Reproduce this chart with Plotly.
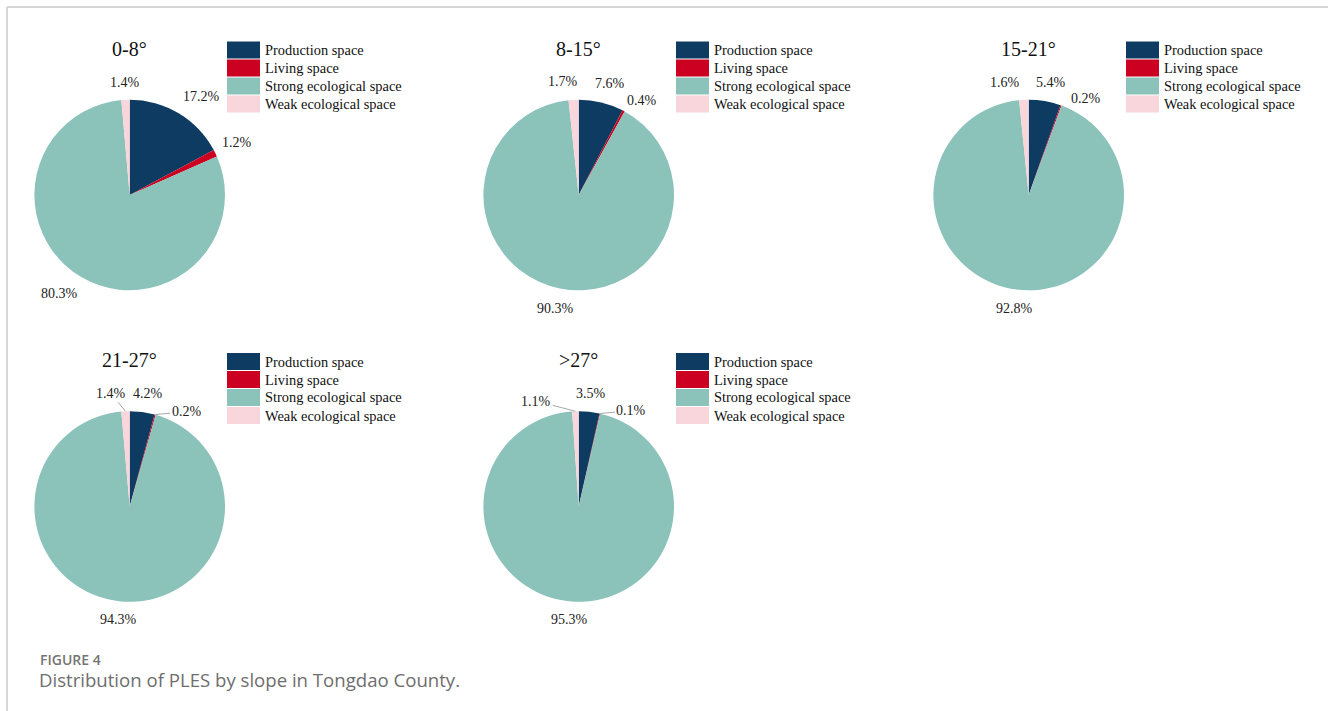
import math
import plotly.graph_objects as go

W, H = 1328, 711

categories = ["Production space", "Living space", "Strong ecological space", "Weak ecological space"]
colors = ["#0e3b62", "#cc0020", "#8bc3ba", "#f8d6dc"]

panel_titles = ["0-8°", "8-15°", "15-21°", "21-27°", ">27°"]
vals_0_8 = [17.2, 1.2, 80.3, 1.4]
vals_8_15 = [7.6, 0.4, 90.3, 1.7]
vals_15_21 = [5.4, 0.2, 92.8, 1.6]
vals_21_27 = [4.2, 0.2, 94.3, 1.4]
vals_gt27 = [3.5, 0.1, 95.3, 1.1]
panel_values = [vals_0_8, vals_8_15, vals_15_21, vals_21_27, vals_gt27]

# ---- layout / styling (pixels) ----
centers = [(129.7, 195), (578.7, 195), (1028.7, 195), (129.7, 506.5), (578.7, 506.5)]
R = 95.3
LABEL_SIZE = 14
# angular nudges (deg) and radial adjustments (px) for crowded outside labels
label_nudge = [[5, 0, 5, 0], [2, 6, 0, -4.6], [1.6, 11, 0, -8.8], [1.6, 15.5, 0, -7], [0, 16, 0, -20]]
label_pull = [[0, -2, 0, 0], [0, -5.5, 0, 0], [0, -7, 0, 0], [0, -8, 0, 0], [0, -9, 0, -3.5]]
leader = [[False] * 4, [False] * 4, [False] * 4,
          [False, True, False, True], [False, True, False, True]]

def px(x):
    return x / W

def py(y):
    return 1 - y / H

serif = "Liberation Serif, Times New Roman, serif"

fig = go.Figure()
shapes = []
annotations = []

for i, (title, vals) in enumerate(zip(panel_titles, panel_values)):
    cx, cy = centers[i]
    fig.add_trace(go.Pie(
        labels=categories,
        values=vals,
        sort=False,
        direction="clockwise",
        rotation=0,
        marker=dict(colors=colors, line=dict(width=0)),
        textinfo="none",
        domain=dict(x=[px(cx - R), px(cx + R)], y=[py(cy + R), py(cy - R)]),
        showlegend=False,
        hoverinfo="label+value",
    ))

    # outside percentage labels, placed at slice mid-angle just outside the circle
    total = sum(vals)
    cum = 0.0
    for k, v in enumerate(vals):
        mid = (cum + v / 2) / total * 360.0
        cum += v
        txt = f"{v:.1f}%"
        ndig = sum(ch.isdigit() for ch in txt)
        hw = LABEL_SIZE * (0.5 * ndig + 0.25 + 0.833) / 2
        hh = LABEL_SIZE / 2
        theta = math.radians(mid + label_nudge[i][k])
        d = R + 10 + abs(hw * math.sin(theta)) + abs(hh * math.cos(theta)) + label_pull[i][k]
        lx = cx + d * math.sin(theta)
        ly = cy - d * math.cos(theta)
        font = dict(family=serif, size=LABEL_SIZE, color="#222222")
        if leader[i][k]:
            a = math.radians(mid)
            ex = cx + R * math.sin(a)
            ey = cy - R * math.cos(a)
            annotations.append(dict(
                text=txt, x=px(ex), y=py(ey), xref="paper", yref="paper",
                ax=lx - ex, ay=ly - ey, axref="pixel", ayref="pixel",
                showarrow=True, arrowhead=0, arrowwidth=1, arrowcolor="#a8a8a8",
                standoff=0, startstandoff=0, font=font,
            ))
        else:
            annotations.append(dict(
                text=txt, x=px(lx), y=py(ly), xref="paper", yref="paper",
                xanchor="center", yanchor="middle", showarrow=False, font=font,
            ))

    # title
    annotations.append(dict(
        text=title, x=px(cx), y=py(cy - 146), xref="paper", yref="paper",
        xanchor="center", yanchor="middle", showarrow=False,
        font=dict(family=serif, size=20, color="#111111"),
    ))
    # legend
    lgx = cx + 97.3
    lgy = cy - 153.5
    for k, (cat, col) in enumerate(zip(categories, colors)):
        top = lgy + k * 18
        shapes.append(dict(
            type="rect", xref="paper", yref="paper",
            x0=px(lgx), x1=px(lgx + 33), y0=py(top + 17), y1=py(top),
            fillcolor=col, line=dict(width=0),
        ))
        annotations.append(dict(
            text=cat, x=px(lgx + 36), y=py(top + 8.5), xref="paper", yref="paper",
            xanchor="left", yanchor="middle", showarrow=False,
            font=dict(family=serif, size=14.4, color="#111111"),
        ))

# frame lines
shapes.append(dict(type="line", xref="paper", yref="paper", x0=px(7), x1=1, y0=py(7), y1=py(7),
                   line=dict(color="#d6d6d6", width=2)))
shapes.append(dict(type="line", xref="paper", yref="paper", x0=px(7), x1=px(7), y0=py(7), y1=0,
                   line=dict(color="#d6d6d6", width=2)))

# caption
annotations.append(dict(
    text="FIGURE 4", x=px(38), y=py(659), xref="paper", yref="paper",
    xanchor="left", yanchor="middle", showarrow=False,
    font=dict(family="Open Sans", size=14, color="#747474", weight=600),
))
annotations.append(dict(
    text="Distribution of PLES by slope in Tongdao County.", x=px(37), y=py(679), xref="paper", yref="paper",
    xanchor="left", yanchor="middle", showarrow=False,
    font=dict(family="Open Sans", size=18.6, color="#6e6e6e"),
))

fig.update_layout(
    width=W, height=H,
    margin=dict(l=0, r=0, t=0, b=0),
    paper_bgcolor="white", plot_bgcolor="white",
    shapes=shapes, annotations=annotations,
)

fig.write_html("out.html")
